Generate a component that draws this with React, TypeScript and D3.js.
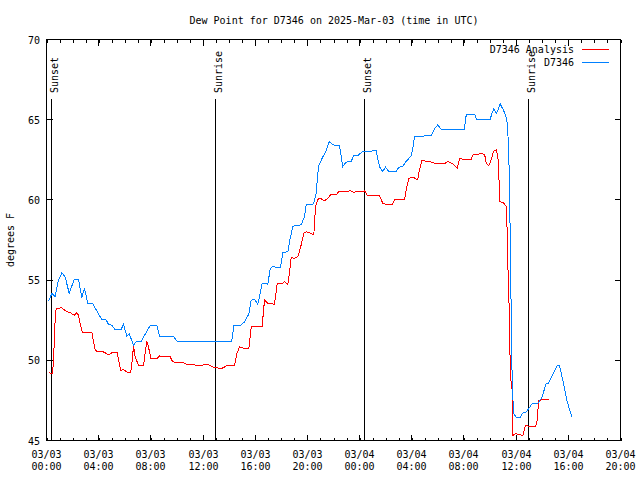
import React from "react";
import * as d3 from "d3";

const TITLE = "Dew Point for D7346 on 2025-Mar-03 (time in UTC)";
const Y_LABEL = "degrees F";
const START = Date.UTC(2025, 2, 3, 0, 0);
const END = Date.UTC(2025, 2, 4, 20, 0);
const Y_TICKS = [45, 50, 55, 60, 65, 70];

// hours after 2025-03-03 00:00 UTC
const sunEventHours = [0.38, 12.95, 24.4, 36.92];
const sunEventNames = ["Sunset", "Sunrise", "Sunset", "Sunrise"];

const analysisHours = [
  0.18, 0.46, 0.54, 0.66, 0.74, 1.17, 1.56, 1.81, 2.12, 2.33, 2.45, 2.58, 2.76, 3.48, 3.73, 3.86,
  4.37, 4.75, 5.0, 5.44, 5.52, 5.7, 5.9, 6.16, 6.46, 6.57, 6.67, 6.8, 7.05, 7.44, 7.57, 7.69, 7.82,
  8.0, 8.46, 8.66, 9.48, 9.68, 10.5, 10.75, 11.78, 12.37, 12.75, 13.39, 13.9, 14.41, 14.59, 14.8,
  15.18, 15.51, 15.69, 15.94, 16.53, 16.71, 16.97, 17.48, 17.69, 17.99, 18.24, 18.5, 18.63, 18.76,
  19.01, 19.27, 19.52, 19.72, 19.91, 20.16, 20.49, 20.62, 20.8, 21.0, 21.31, 21.57, 21.77, 22.21,
  22.41, 23.1, 23.3, 23.53, 23.99, 24.38, 24.63, 25.53, 25.78, 26.16, 26.5, 26.68, 27.44, 27.57,
  27.77, 28.08, 28.46, 28.59, 28.77, 29.36, 29.87, 30.5, 30.77, 31.15, 31.49, 31.67, 31.92, 32.56,
  32.69, 33.33, 33.58, 33.71, 33.91, 34.09, 34.26, 34.47, 34.6, 34.68, 34.73, 35.03, 35.24, 35.29,
  35.37, 35.45, 35.5, 35.58, 35.7, 35.74, 35.95, 36.26, 36.51, 36.72, 37.03, 37.49, 37.62, 37.72,
  37.99, 38.5,
];
const analysisValues = [
  49.23, 49.17, 50.0, 52.5, 53.23, 53.27, 53.02, 52.98, 52.81, 52.96, 52.81, 52.29, 51.71, 51.71,
  50.67, 50.56, 50.52, 50.35, 50.46, 50.46, 50.0, 49.38, 49.42, 49.27, 49.27, 50.0, 50.88, 50.21,
  49.69, 49.69, 50.52, 51.19, 50.83, 50.1, 50.1, 50.27, 50.21, 49.9, 49.85, 49.73, 49.69, 49.73,
  49.58, 49.48, 49.69, 49.69, 50.42, 50.83, 50.73, 50.73, 52.08, 52.13, 52.13, 53.75, 53.54, 53.5,
  54.79, 54.75, 54.9, 54.73, 55.52, 56.42, 56.35, 56.46, 57.19, 57.92, 58.02, 57.96, 57.81, 59.58,
  60.04, 60.1, 59.94, 60.1, 60.31, 60.31, 60.52, 60.52, 60.58, 60.48, 60.52, 60.56, 60.25, 60.25,
  59.79, 59.69, 59.69, 60.0, 60.0, 60.63, 61.35, 61.42, 61.25, 61.88, 62.44, 62.4, 62.25, 62.25,
  62.4, 62.25, 61.98, 62.6, 62.54, 62.54, 62.81, 62.88, 62.85, 62.29, 62.13, 62.5, 63.02, 63.13,
  62.71, 61.46, 59.9, 59.83, 59.58, 58.75, 55.83, 53.75, 51.25, 48.85, 48.13, 45.31, 45.42, 45.38,
  45.31, 45.94, 45.88, 45.88, 46.25, 47.5, 47.54, 47.54,
];

const obsHours = [
  0.18, 0.41, 0.66, 0.92, 1.18, 1.43, 1.74, 2.12, 2.45, 2.71, 2.91, 3.17, 3.53, 4.24, 4.55, 4.75,
  5.0, 5.26, 5.72, 5.9, 6.16, 6.34, 6.67, 6.92, 7.26, 7.95, 8.46, 8.66, 9.74, 9.99, 14.2, 14.36,
  14.92, 15.18, 15.51, 15.69, 15.94, 16.2, 16.4, 16.53, 16.97, 17.15, 17.3, 17.94, 18.12, 18.5,
  18.68, 18.88, 19.01, 19.52, 19.78, 19.91, 20.47, 20.67, 20.85, 21.13, 21.44, 21.69, 21.95, 22.21,
  22.46, 22.71, 22.97, 23.36, 23.53, 23.86, 24.25, 25.27, 25.4, 25.58, 25.78, 25.99, 26.24, 26.81,
  27.01, 27.31, 27.57, 27.96, 28.08, 28.21, 29.49, 29.74, 30.0, 30.26, 32.04, 32.12, 32.22, 32.81,
  32.99, 34.01, 34.13, 34.29, 34.47, 34.67, 34.78, 34.98, 35.16, 35.29, 35.42, 35.5, 35.55, 35.6,
  35.65, 35.7, 35.8, 36.0, 36.3, 36.5, 36.76, 36.96, 37.22, 37.65, 37.99, 38.29, 38.49, 38.85,
  39.11, 39.32, 39.58, 39.89, 40.27,
];
const obsValues = [
  53.71, 54.17, 53.96, 55.0, 55.46, 55.2, 54.17, 55.04, 55.04, 53.92, 54.48, 53.54, 53.54, 52.54,
  52.54, 52.25, 52.19, 51.92, 51.92, 52.23, 51.5, 51.67, 50.94, 51.2, 51.2, 52.17, 52.17, 51.5,
  51.5, 51.2, 51.2, 52.15, 52.19, 52.4, 52.88, 53.75, 53.79, 53.5, 54.27, 54.79, 54.75, 55.73,
  55.83, 55.79, 56.71, 56.77, 57.6, 58.33, 58.4, 58.44, 58.96, 59.69, 59.75, 60.42, 62.08, 62.6,
  63.08, 63.65, 63.44, 63.38, 63.38, 62.08, 62.35, 62.4, 62.75, 62.77, 63.02, 63.06, 62.5, 61.98,
  61.77, 62.04, 61.77, 61.77, 62.04, 62.08, 62.4, 62.75, 63.23, 63.96, 64.0, 64.42, 64.69, 64.38,
  64.38, 65.1, 65.35, 65.35, 65.0, 65.0, 65.38, 65.67, 65.38, 65.73, 65.98, 65.67, 65.35, 65.0,
  63.44, 60.42, 57.29, 54.38, 50.83, 48.75, 46.67, 46.46, 46.42, 46.71, 46.77, 46.98, 47.29, 47.29,
  47.71, 48.54, 48.58, 49.17, 49.63, 49.69, 48.75, 47.5, 46.46,
];

const seriesNames = ["D7346 Analysis", "D7346"];
const seriesColors = ["#ff0000", "#0080ff"];

const FONT = "'DejaVu Sans Mono', monospace";

export default function App() {
  const W = 640;
  const H = 480;
  const left = 46.5;
  const right = 620.5;
  const top = 39.5;
  const bottom = 440.5;

  const x = d3.scaleUtc().domain([new Date(START), new Date(END)]).range([left, right]);
  const y = d3.scaleLinear().domain([45, 70]).range([bottom, top]);
  const toDate = (h: number) => new Date(START + h * 3600 * 1000);

  const line = d3
    .line<[number, number]>()
    .x((d) => x(toDate(d[0])))
    .y((d) => y(d[1]));

  const analysis: [number, number][] = analysisHours.map((h, i) => [h, analysisValues[i]]);
  const obs: [number, number][] = obsHours.map((h, i) => [h, obsValues[i]]);

  const majorTicks = x.ticks(d3.utcHour.every(4)!);
  const minorTicks = x.ticks(d3.utcHour.every(1)!);
  const fmtDate = d3.utcFormat("%m/%d");
  const fmtTime = d3.utcFormat("%H:%M");

  const textStyle = { fontFamily: FONT, fontSize: 10, fill: "#000" } as const;

  return (
    <svg
      width={W}
      height={H}
      style={{ position: "absolute", left: 0, top: 0, background: "#fff" }}
    >
      <rect x={0} y={0} width={W} height={H} fill="#fff" />
      <text x={334} y={24} textAnchor="middle" {...textStyle}>
        {TITLE}
      </text>

      {/* minor x ticks */}
      {minorTicks.map((t, i) => {
        const px = Math.round(x(t)) + 0.5;
        return (
          <g key={"mn" + i} stroke="#000" shapeRendering="crispEdges">
            <line x1={px} x2={px} y1={bottom} y2={bottom - 3} />
            <line x1={px} x2={px} y1={top} y2={top + 3} />
          </g>
        );
      })}
      {majorTicks.map((t, i) => {
        const px = Math.round(x(t) - 0.5) + 0.5;
        return (
          <g key={"mj" + i}>
            <g stroke="#000" shapeRendering="crispEdges">
              <line x1={px} x2={px} y1={bottom} y2={bottom - 6} />
              <line x1={px} x2={px} y1={top} y2={top + 6} />
            </g>
            <text x={px} y={458} textAnchor="middle" {...textStyle}>
              {fmtDate(t)}
            </text>
            <text x={px} y={470} textAnchor="middle" {...textStyle}>
              {fmtTime(t)}
            </text>
          </g>
        );
      })}

      {Y_TICKS.map((v) => {
        const py = y(v);
        return (
          <g key={"y" + v}>
            <g stroke="#000" shapeRendering="crispEdges">
              <line x1={left} x2={left + 6} y1={py} y2={py} />
              <line x1={right} x2={right - 6} y1={py} y2={py} />
            </g>
            <text x={40} y={py + 4} textAnchor="end" {...textStyle}>
              {v}
            </text>
          </g>
        );
      })}

      <text
        transform={`translate(14, ${(top + bottom) / 2}) rotate(-90)`}
        textAnchor="middle"
        {...textStyle}
      >
        {Y_LABEL}
      </text>

      {/* sunrise / sunset markers */}
      {sunEventHours.map((h, i) => {
        const px = Math.round(x(toDate(h)) - 0.5) + 0.5;
        return (
          <g key={"sun" + i}>
            <line
              x1={px}
              x2={px}
              y1={99}
              y2={bottom}
              stroke="#000"
              shapeRendering="crispEdges"
            />
            <text transform={`translate(${px + 6}, 93) rotate(-90)`} {...textStyle}>
              {sunEventNames[i]}
            </text>
          </g>
        );
      })}

      <path
        d={line(analysis) || ""}
        fill="none"
        stroke={seriesColors[0]}
        strokeWidth={1}
        shapeRendering="crispEdges"
      />
      <path
        d={line(obs) || ""}
        fill="none"
        stroke={seriesColors[1]}
        strokeWidth={1}
        shapeRendering="crispEdges"
      />

      {/* legend */}
      {seriesNames.map((name, i) => (
        <g key={name}>
          <text x={574} y={53 + i * 13} textAnchor="end" {...textStyle}>
            {name}
          </text>
          <line
            x1={582}
            x2={609}
            y1={49.5 + i * 13}
            y2={49.5 + i * 13}
            stroke={seriesColors[i]}
            shapeRendering="crispEdges"
          />
        </g>
      ))}

      <rect
        x={left}
        y={top}
        width={right - left}
        height={bottom - top}
        fill="none"
        stroke="#000"
        shapeRendering="crispEdges"
      />
    </svg>
  );
}
